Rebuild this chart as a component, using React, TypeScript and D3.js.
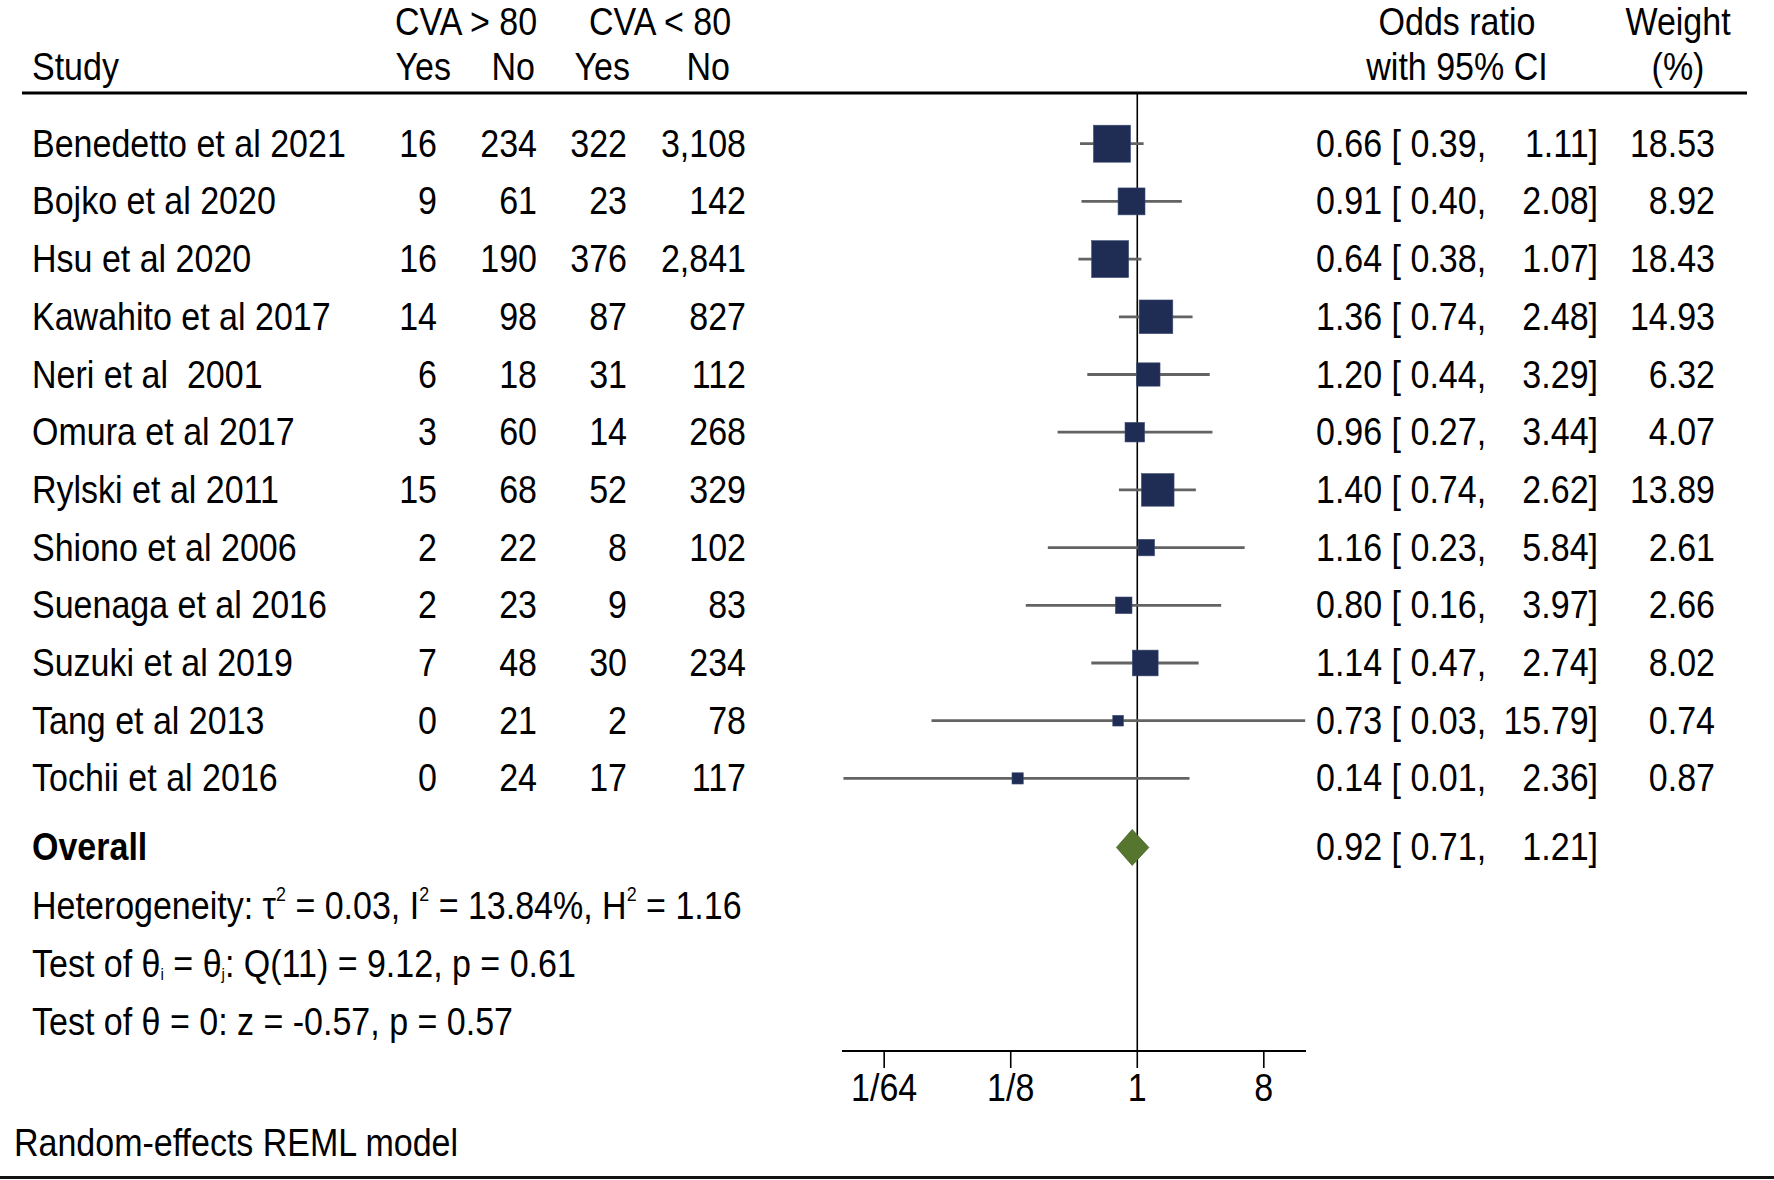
import React from "react";
import * as d3 from "d3";

const studies = [
  "Benedetto et al 2021",
  "Bojko et al 2020",
  "Hsu et al 2020",
  "Kawahito et al 2017",
  "Neri et al  2001",
  "Omura et al 2017",
  "Rylski et al 2011",
  "Shiono et al 2006",
  "Suenaga et al 2016",
  "Suzuki et al 2019",
  "Tang et al 2013",
  "Tochii et al 2016",
];
const yesGt80 = [16, 9, 16, 14, 6, 3, 15, 2, 2, 7, 0, 0];
const noGt80 = [234, 61, 190, 98, 18, 60, 68, 22, 23, 48, 21, 24];
const yesLt80 = [322, 23, 376, 87, 31, 14, 52, 8, 9, 30, 2, 17];
const noLt80 = [3108, 142, 2841, 827, 112, 268, 329, 102, 83, 234, 78, 117];
const oddsRatio = [0.66, 0.91, 0.64, 1.36, 1.2, 0.96, 1.4, 1.16, 0.8, 1.14, 0.73, 0.14];
const ciLow = [0.39, 0.4, 0.38, 0.74, 0.44, 0.27, 0.74, 0.23, 0.16, 0.47, 0.034, 0.008];
const ciHigh = [1.11, 2.08, 1.07, 2.48, 3.29, 3.44, 2.62, 5.84, 3.97, 2.74, 15.79, 2.36];
const weights = [18.53, 8.92, 18.43, 14.93, 6.32, 4.07, 13.89, 2.61, 2.66, 8.02, 0.74, 0.87];
const overallEst = [0.92, 0.71, 1.21];
const tickValues = [1 / 64, 1 / 8, 1, 8];
const tickLabels = ["1/64", "1/8", "1", "8"];

const FONT = "'Liberation Sans', Arial, Helvetica, sans-serif";
const FS = 38;
const SX = 0.895;

function T({ x, y, anchor = "start", bold = false, children }: any) {
  return (
    <text
      transform={`translate(${x},${y}) scale(${SX},1)`}
      textAnchor={anchor}
      fontFamily={FONT}
      fontSize={FS}
      fontWeight={bold ? "bold" : "normal"}
      fill="#000"
      style={{ whiteSpace: "pre" }}
    >
      {children}
    </text>
  );
}

export default function App() {
  const W = 1774;
  const H = 1180;
  const x = d3.scaleLog().base(2).domain([Math.pow(2, -7), 16]).range([842, 1306]);
  const y = d3.scaleLinear().domain([0, 11]).range([143.7, 778.4]);
  const overallY = y(11) + 69;
  const statsY = [overallY + 58.8, overallY + 116.5, overallY + 174.2];
  const axisY = 1051;
  const base = 13;
  const fmtN = d3.format(",");
  const f2 = d3.format(".2f");
  const side = d3.scaleSqrt().domain([0, d3.max(weights)!]).range([4.1, 37]);
  const navy = "#1f2d55";
  const ciColor = "#636363";
  const green = "#56752f";

  const colRight = [437, 537, 627, 746];
  const cols = [yesGt80, noGt80, yesLt80, noLt80];

  const [oe, ol, oh] = overallEst;
  const dh = 18;

  return (
    <svg
      width={W}
      height={H}
      style={{ position: "absolute", left: 0, top: 0, background: "#fff" }}
    >
      <rect x={0} y={0} width={W} height={H} fill="#fff" />
      {/* headers */}
      <T x={466} y={35} anchor="middle">CVA &gt; 80</T>
      <T x={660} y={35} anchor="middle">CVA &lt; 80</T>
      <T x={32} y={80}>Study</T>
      <T x={451} y={80} anchor="end">Yes</T>
      <T x={535} y={80} anchor="end">No</T>
      <T x={630} y={80} anchor="end">Yes</T>
      <T x={730} y={80} anchor="end">No</T>
      <T x={1457} y={35} anchor="middle">Odds ratio</T>
      <T x={1457} y={80} anchor="middle">with 95% CI</T>
      <T x={1678} y={35} anchor="middle">Weight</T>
      <T x={1678} y={80} anchor="middle">(%)</T>
      <line x1={22} x2={1747} y1={93} y2={93} stroke="#000" strokeWidth={3} />

      {/* null line */}
      <line x1={x(1)} x2={x(1)} y1={93} y2={axisY} stroke="#000" strokeWidth={1.6} />

      {/* rows */}
      {studies.map((s, i) => {
        const cy = y(i);
        const sd = side(weights[i]);
        return (
          <g key={s}>
            <T x={32} y={cy + base}>{s}</T>
            {cols.map((c, j) => (
              <T key={j} x={colRight[j]} y={cy + base} anchor="end">
                {fmtN(c[i])}
              </T>
            ))}
            <line
              x1={x(ciLow[i])}
              x2={x(ciHigh[i])}
              y1={cy}
              y2={cy}
              stroke={ciColor}
              strokeWidth={2.8}
            />
            <rect
              x={x(oddsRatio[i]) - sd / 2}
              y={cy - sd / 2}
              width={sd}
              height={sd}
              fill={navy}
              stroke="#3a4a70"
              strokeWidth={0.6}
            />
            <T x={1316} y={cy + base}>{`${f2(oddsRatio[i])} [ ${f2(ciLow[i])},`}</T>
            <T x={1598} y={cy + base} anchor="end">{`${f2(ciHigh[i])}]`}</T>
            <T x={1715} y={cy + base} anchor="end">{f2(weights[i])}</T>
          </g>
        );
      })}

      {/* overall */}
      <T x={32} y={overallY + base} bold>Overall</T>
      <path
        d={`M${x(ol)},${overallY} L${x(oe)},${overallY - dh} L${x(oh)},${overallY} L${x(oe)},${overallY + dh} Z`}
        fill={green}
        stroke="#4a6628"
        strokeWidth={0.8}
      />
      <T x={1316} y={overallY + base}>{`${f2(oe)} [ ${f2(ol)},`}</T>
      <T x={1598} y={overallY + base} anchor="end">{`${f2(oh)}]`}</T>

      {/* stats */}
      <T x={32} y={statsY[0] + base}>
        Heterogeneity: τ<tspan dy={-18} fontSize={20}>2</tspan>
        <tspan dy={18}> = 0.03, I</tspan>
        <tspan dy={-18} fontSize={20}>2</tspan>
        <tspan dy={18}> = 13.84%, H</tspan>
        <tspan dy={-18} fontSize={20}>2</tspan>
        <tspan dy={18}> = 1.16</tspan>
      </T>
      <T x={32} y={statsY[1] + base}>
        Test of θ<tspan dy={3} fontSize={17}>i</tspan>
        <tspan dy={-3}> = θ</tspan>
        <tspan dy={3} fontSize={17}>j</tspan>
        <tspan dy={-3}>: Q(11) = 9.12, p = 0.61</tspan>
      </T>
      <T x={32} y={statsY[2] + base}>Test of θ = 0: z = -0.57, p = 0.57</T>

      {/* axis */}
      <line x1={842} x2={1306} y1={axisY} y2={axisY} stroke="#000" strokeWidth={2} />
      {tickValues.map((t, i) => (
        <g key={i}>
          <line x1={x(t)} x2={x(t)} y1={axisY} y2={axisY + 17} stroke="#000" strokeWidth={1.6} />
          <T x={x(t)} y={1101} anchor="middle">{tickLabels[i]}</T>
        </g>
      ))}

      <T x={14} y={1156}>Random-effects REML model</T>
      <line x1={0} x2={W} y1={1177.5} y2={1177.5} stroke="#111" strokeWidth={3} />
    </svg>
  );
}
